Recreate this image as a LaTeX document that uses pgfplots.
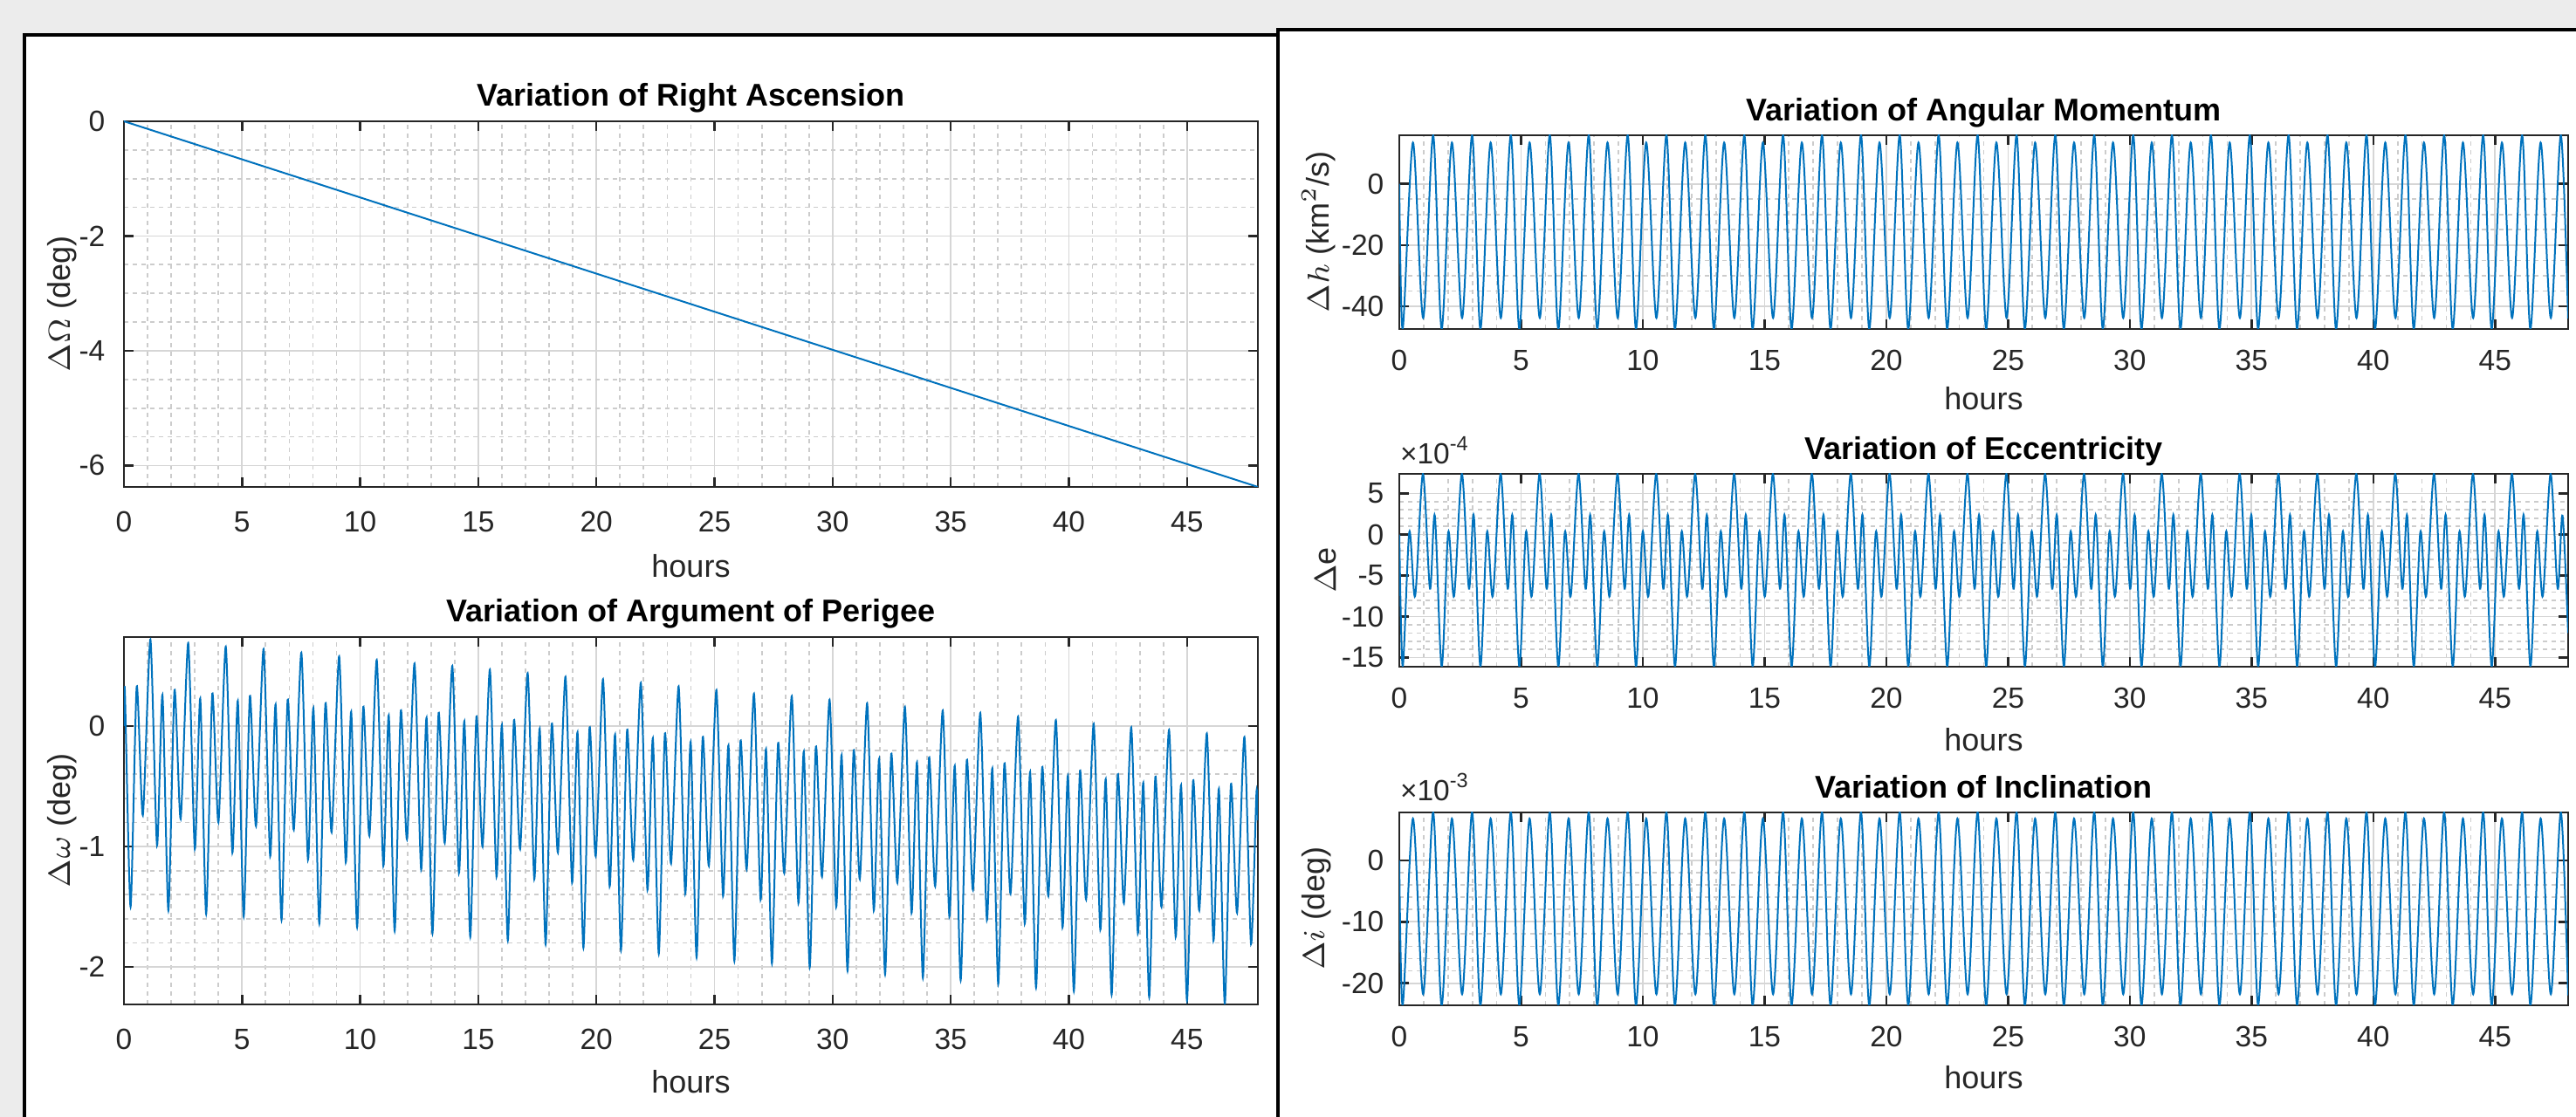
\documentclass[border=0pt]{standalone}
\usepackage{fontspec}
\setmainfont{Liberation Sans}
\usepackage{pgfplots}
\pgfplotsset{compat=1.18}
\usepackage{pgfplotstable}

\definecolor{mblue}{RGB}{0,114,189}
\definecolor{figgray}{RGB}{236,236,236}
\definecolor{axgray}{RGB}{38,38,38}

% right ascension (deg)
\pgfplotstableread{
t dO
0 0
3 -0.398
6 -0.797
9 -1.195
12 -1.594
15 -1.992
18 -2.390
21 -2.789
24 -3.187
27 -3.586
30 -3.984
33 -4.382
36 -4.781
39 -5.179
42 -5.578
45 -5.976
48 -6.374
}\tabRAAN

% argument of perigee (deg)
\pgfplotstableread{
t dw
0.00 0.00
0.04 0.29
0.28 -1.50
0.54 0.33
0.80 -0.74
1.12 0.72
1.40 -0.99
1.63 0.26
1.88 -1.53
2.14 0.30
2.40 -0.77
2.72 0.69
3.00 -1.02
3.23 0.23
3.48 -1.56
3.74 0.27
4.00 -0.80
4.31 0.66
4.59 -1.05
4.82 0.21
5.07 -1.58
5.33 0.25
5.59 -0.83
5.91 0.64
6.19 -1.08
6.42 0.18
6.67 -1.61
6.93 0.22
7.19 -0.86
7.51 0.61
7.79 -1.11
8.02 0.15
8.27 -1.64
8.53 0.19
8.79 -0.88
9.11 0.58
9.39 -1.13
9.62 0.12
9.87 -1.67
10.13 0.16
10.39 -0.91
10.70 0.55
10.98 -1.16
11.21 0.09
11.46 -1.70
11.72 0.13
11.98 -0.94
12.30 0.52
12.58 -1.19
12.81 0.07
13.06 -1.72
13.32 0.11
13.58 -0.97
13.90 0.50
14.18 -1.22
14.41 0.04
14.66 -1.75
14.92 0.08
15.18 -1.00
15.49 0.47
15.77 -1.25
16.00 0.01
16.25 -1.78
16.51 0.05
16.77 -1.02
17.09 0.44
17.37 -1.27
17.60 -0.02
17.85 -1.81
18.11 0.02
18.37 -1.05
18.69 0.41
18.97 -1.30
19.20 -0.05
19.45 -1.84
19.71 -0.01
19.97 -1.08
20.28 0.39
20.56 -1.33
20.79 -0.07
21.04 -1.86
21.30 -0.03
21.56 -1.11
21.88 0.36
22.16 -1.36
22.39 -0.10
22.64 -1.89
22.90 -0.06
23.16 -1.14
23.48 0.33
23.76 -1.39
23.99 -0.13
24.24 -1.92
24.50 -0.09
24.76 -1.16
25.08 0.30
25.36 -1.41
25.59 -0.16
25.84 -1.95
26.10 -0.12
26.36 -1.19
26.67 0.27
26.95 -1.44
27.18 -0.19
27.43 -1.97
27.69 -0.14
27.95 -1.22
28.27 0.25
28.55 -1.47
28.78 -0.21
29.03 -2.00
29.29 -0.17
29.55 -1.25
29.87 0.22
30.15 -1.50
30.38 -0.24
30.63 -2.03
30.89 -0.20
31.15 -1.27
31.46 0.19
31.74 -1.53
31.97 -0.27
32.22 -2.06
32.48 -0.23
32.74 -1.30
33.06 0.16
33.34 -1.55
33.57 -0.30
33.82 -2.09
34.08 -0.26
34.34 -1.33
34.66 0.13
34.94 -1.58
35.17 -0.33
35.42 -2.11
35.68 -0.28
35.94 -1.36
36.25 0.11
36.53 -1.61
36.76 -0.35
37.01 -2.14
37.27 -0.31
37.53 -1.39
37.85 0.08
38.13 -1.64
38.36 -0.38
38.61 -2.17
38.87 -0.34
39.13 -1.41
39.45 0.05
39.73 -1.67
39.96 -0.41
40.21 -2.20
40.47 -0.37
40.73 -1.44
41.05 0.02
41.33 -1.69
41.56 -0.44
41.81 -2.23
42.07 -0.40
42.33 -1.47
42.64 -0.01
42.92 -1.72
43.15 -0.47
43.40 -2.25
43.66 -0.42
43.92 -1.50
44.24 -0.03
44.52 -1.75
44.75 -0.49
45.00 -2.28
45.26 -0.45
45.52 -1.53
45.84 -0.06
46.12 -1.78
46.35 -0.52
46.60 -2.31
46.86 -0.48
47.12 -1.55
47.43 -0.09
47.71 -1.81
47.94 -0.55
48.00 -0.78
}\tabAOP

% angular momentum (km^2/s) and inclination (1e-3 deg), same timing
\pgfplotstableread{
t dh di
0.00 0.0 0.0
0.14 -47.4 -23.6
0.56 13.5 6.8
0.98 -43.8 -21.8
1.39 15.9 7.8
1.74 -47.4 -23.6
2.16 13.5 6.8
2.58 -43.8 -21.8
2.99 15.9 7.8
3.33 -47.4 -23.6
3.75 13.5 6.8
4.17 -43.8 -21.8
4.58 15.9 7.8
4.93 -47.4 -23.6
5.35 13.5 6.8
5.77 -43.8 -21.8
6.18 15.9 7.8
6.53 -47.4 -23.6
6.95 13.5 6.8
7.37 -43.8 -21.8
7.78 15.9 7.8
8.13 -47.4 -23.6
8.55 13.5 6.8
8.97 -43.8 -21.8
9.38 15.9 7.8
9.72 -47.4 -23.6
10.14 13.5 6.8
10.56 -43.8 -21.8
10.97 15.9 7.8
11.32 -47.4 -23.6
11.74 13.5 6.8
12.16 -43.8 -21.8
12.57 15.9 7.8
12.92 -47.4 -23.6
13.34 13.5 6.8
13.76 -43.8 -21.8
14.17 15.9 7.8
14.51 -47.4 -23.6
14.93 13.5 6.8
15.35 -43.8 -21.8
15.76 15.9 7.8
16.11 -47.4 -23.6
16.53 13.5 6.8
16.95 -43.8 -21.8
17.36 15.9 7.8
17.71 -47.4 -23.6
18.13 13.5 6.8
18.55 -43.8 -21.8
18.96 15.9 7.8
19.30 -47.4 -23.6
19.72 13.5 6.8
20.14 -43.8 -21.8
20.55 15.9 7.8
20.90 -47.4 -23.6
21.32 13.5 6.8
21.74 -43.8 -21.8
22.15 15.9 7.8
22.50 -47.4 -23.6
22.92 13.5 6.8
23.34 -43.8 -21.8
23.75 15.9 7.8
24.10 -47.4 -23.6
24.52 13.5 6.8
24.94 -43.8 -21.8
25.35 15.9 7.8
25.69 -47.4 -23.6
26.11 13.5 6.8
26.53 -43.8 -21.8
26.94 15.9 7.8
27.29 -47.4 -23.6
27.71 13.5 6.8
28.13 -43.8 -21.8
28.54 15.9 7.8
28.89 -47.4 -23.6
29.31 13.5 6.8
29.73 -43.8 -21.8
30.14 15.9 7.8
30.48 -47.4 -23.6
30.90 13.5 6.8
31.32 -43.8 -21.8
31.73 15.9 7.8
32.08 -47.4 -23.6
32.50 13.5 6.8
32.92 -43.8 -21.8
33.33 15.9 7.8
33.68 -47.4 -23.6
34.10 13.5 6.8
34.52 -43.8 -21.8
34.93 15.9 7.8
35.27 -47.4 -23.6
35.69 13.5 6.8
36.11 -43.8 -21.8
36.52 15.9 7.8
36.87 -47.4 -23.6
37.29 13.5 6.8
37.71 -43.8 -21.8
38.12 15.9 7.8
38.47 -47.4 -23.6
38.89 13.5 6.8
39.31 -43.8 -21.8
39.72 15.9 7.8
40.07 -47.4 -23.6
40.49 13.5 6.8
40.91 -43.8 -21.8
41.32 15.9 7.8
41.66 -47.4 -23.6
42.08 13.5 6.8
42.50 -43.8 -21.8
42.91 15.9 7.8
43.26 -47.4 -23.6
43.68 13.5 6.8
44.10 -43.8 -21.8
44.51 15.9 7.8
44.86 -47.4 -23.6
45.28 13.5 6.8
45.70 -43.8 -21.8
46.11 15.9 7.8
46.45 -47.4 -23.6
46.87 13.5 6.8
47.29 -43.8 -21.8
47.70 15.9 7.8
48.00 -44.0 -22.0
}\tabHI

% eccentricity (1e-4)
\pgfplotstableread{
t de
0.00 0.0
0.14 -16.1
0.41 0.3
0.65 -7.5
0.97 7.4
1.26 -6.6
1.46 2.3
1.74 -16.1
2.01 0.3
2.25 -7.5
2.57 7.4
2.86 -6.6
3.06 2.3
3.33 -16.1
3.60 0.3
3.84 -7.5
4.16 7.4
4.45 -6.6
4.65 2.3
4.93 -16.1
5.20 0.3
5.44 -7.5
5.76 7.4
6.05 -6.6
6.25 2.3
6.53 -16.1
6.80 0.3
7.04 -7.5
7.36 7.4
7.65 -6.6
7.85 2.3
8.13 -16.1
8.40 0.3
8.64 -7.5
8.96 7.4
9.25 -6.6
9.45 2.3
9.72 -16.1
9.99 0.3
10.23 -7.5
10.55 7.4
10.84 -6.6
11.04 2.3
11.32 -16.1
11.59 0.3
11.83 -7.5
12.15 7.4
12.44 -6.6
12.64 2.3
12.92 -16.1
13.19 0.3
13.43 -7.5
13.75 7.4
14.04 -6.6
14.24 2.3
14.51 -16.1
14.78 0.3
15.02 -7.5
15.34 7.4
15.63 -6.6
15.83 2.3
16.11 -16.1
16.38 0.3
16.62 -7.5
16.94 7.4
17.23 -6.6
17.43 2.3
17.71 -16.1
17.98 0.3
18.22 -7.5
18.54 7.4
18.83 -6.6
19.03 2.3
19.30 -16.1
19.57 0.3
19.81 -7.5
20.13 7.4
20.42 -6.6
20.62 2.3
20.90 -16.1
21.17 0.3
21.41 -7.5
21.73 7.4
22.02 -6.6
22.22 2.3
22.50 -16.1
22.77 0.3
23.01 -7.5
23.33 7.4
23.62 -6.6
23.82 2.3
24.10 -16.1
24.37 0.3
24.61 -7.5
24.93 7.4
25.22 -6.6
25.42 2.3
25.69 -16.1
25.96 0.3
26.20 -7.5
26.52 7.4
26.81 -6.6
27.01 2.3
27.29 -16.1
27.56 0.3
27.80 -7.5
28.12 7.4
28.41 -6.6
28.61 2.3
28.89 -16.1
29.16 0.3
29.40 -7.5
29.72 7.4
30.01 -6.6
30.21 2.3
30.48 -16.1
30.75 0.3
30.99 -7.5
31.31 7.4
31.60 -6.6
31.80 2.3
32.08 -16.1
32.35 0.3
32.59 -7.5
32.91 7.4
33.20 -6.6
33.40 2.3
33.68 -16.1
33.95 0.3
34.19 -7.5
34.51 7.4
34.80 -6.6
35.00 2.3
35.27 -16.1
35.54 0.3
35.78 -7.5
36.10 7.4
36.39 -6.6
36.59 2.3
36.87 -16.1
37.14 0.3
37.38 -7.5
37.70 7.4
37.99 -6.6
38.19 2.3
38.47 -16.1
38.74 0.3
38.98 -7.5
39.30 7.4
39.59 -6.6
39.79 2.3
40.07 -16.1
40.34 0.3
40.58 -7.5
40.90 7.4
41.19 -6.6
41.39 2.3
41.66 -16.1
41.93 0.3
42.17 -7.5
42.49 7.4
42.78 -6.6
42.98 2.3
43.26 -16.1
43.53 0.3
43.77 -7.5
44.09 7.4
44.38 -6.6
44.58 2.3
44.86 -16.1
45.13 0.3
45.37 -7.5
45.69 7.4
45.98 -6.6
46.18 2.3
46.45 -16.1
46.72 0.3
46.96 -7.5
47.28 7.4
47.57 -6.6
47.77 2.3
48.00 -12.0
}\tabE

\tikzset{expnote/.style={anchor=base west, inner sep=0pt, text=axgray, font=\fontsize{6.7}{8}\selectfont}}

\pgfplotsset{
  orbit/.style={
    scale only axis,
    anchor=south west,
    clip mode=individual,
    xmin=0, xmax=48,
    xtick={0,5,...,45},
    minor x tick num=4,
    grid=both,
    major grid style={draw=black!16, line width=0.35pt},
    minor grid style={draw=black!20, line width=0.35pt, dash pattern=on 1pt off 1pt},
    tick align=inside,
    major tick length=2.2pt,
    minor tick length=0pt,
    axis line style={draw=axgray, line width=0.55pt},
    every tick/.style={draw=axgray, line width=0.5pt},
    /pgf/number format/assume math mode=true,
    ticklabel style={font=\fontsize{6.7}{8}\selectfont, text=axgray},
    xticklabel style={anchor=center},
    xlabel={hours},
    label style={font=\fontsize{7.2}{8.5}\selectfont, text=axgray},
    every axis title/.style={at={(axis description cs:0.5,1)}, anchor=base,
      font=\fontsize{7.2}{8.5}\selectfont\bfseries},
    cycle list={{mblue, line width=0.6pt, no markers}},
  },
  leftp/.style={orbit, width=259.8pt,
    xticklabel style={yshift=-8pt},
    yticklabel style={xshift=-0.8pt},
    title style={yshift=3.4pt},
    ylabel style={at={(axis description cs:-0.0547,0.5)}, anchor=center}},
  rightp/.style={orbit, width=267.8pt, height=44.2pt,
    xticklabel style={yshift=-7.2pt},
    title style={yshift=3.2pt}},
}

\begin{document}
\begin{tikzpicture}
\useasboundingbox (0,0) rectangle (590.2pt,256pt);
\fill[figgray] (0,0) rectangle (590.2pt,256pt);
\fill[white] (5.6pt,0) rectangle (292.8pt,248pt);
\fill[white] (292.8pt,0) rectangle (590.2pt,249.2pt);
\draw[black, line width=0.9pt] (5.6pt,-2pt) -- (5.6pt,248pt) -- (292.8pt,248pt);
\draw[black, line width=0.9pt] (292.8pt,-2pt) -- (292.8pt,249.2pt) -- (592pt,249.2pt);

% left column
\begin{axis}[leftp, at={(28.4pt,144.4pt)}, height=83.8pt,
  ymin=-6.374, ymax=0, ytick={-6,-4,-2,0}, minor y tick num=3,
  title={Variation of Right Ascension},
  xlabel style={at={(axis description cs:0.5,-0.217)}, anchor=center},
  ylabel={$\Delta\Omega$ (deg)}]
\addplot table[x=t, y=dO] {\tabRAAN};
\end{axis}

\begin{axis}[leftp, at={(28.4pt,25.8pt)}, height=84.2pt,
  ymin=-2.31, ymax=0.74, ytick={-2,-1,0}, minor y tick num=4,
  title={Variation of Argument of Perigee},
  xlabel style={at={(axis description cs:0.5,-0.211)}, anchor=center},
  ylabel={$\Delta\omega$ (deg)}]
\addplot+[smooth, tension=0.4] table[x=t, y=dw] {\tabAOP};
\end{axis}

% right column
\begin{axis}[rightp, at={(320.6pt,180.6pt)}, height=44.4pt,
  ymin=-47.4, ymax=15.9, ytick={-40,-20,0}, minor y tick num=3,
  title={Variation of Angular Momentum},
  xlabel style={at={(axis description cs:0.5,-0.36)}, anchor=center},
  ylabel style={at={(axis description cs:-0.069,0.5)}, anchor=center},
  ylabel={$\Delta h$ (km$^2$/s)}]
\addplot+[smooth] table[x=t, y=dh] {\tabHI};
\end{axis}

\begin{axis}[rightp, at={(320.6pt,103.2pt)},
  ymin=-16.1, ymax=7.4, ytick={-15,-10,-5,0,5}, minor y tick num=4,
  title={Variation of Eccentricity},
  xlabel style={at={(axis description cs:0.5,-0.38)}, anchor=center},
  ylabel style={at={(axis description cs:-0.063,0.5)}, anchor=center},
  ylabel={$\Delta$e}]
\addplot+[smooth] table[x=t, y=de] {\tabE};
\node[expnote, yshift=2.2pt] at (rel axis cs:0,1) {×10\textsuperscript{-4}};
\end{axis}

\begin{axis}[rightp, at={(320.6pt,25.6pt)},
  ymin=-23.6, ymax=7.8, ytick={-20,-10,0}, minor y tick num=4,
  title={Variation of Inclination},
  xlabel style={at={(axis description cs:0.5,-0.375)}, anchor=center},
  ylabel style={at={(axis description cs:-0.071,0.5)}, anchor=center},
  ylabel={$\Delta i$ (deg)}]
\addplot+[smooth] table[x=t, y=di] {\tabHI};
\node[expnote, yshift=2.6pt] at (rel axis cs:0,1) {×10\textsuperscript{-3}};
\end{axis}
\end{tikzpicture}
\end{document}
